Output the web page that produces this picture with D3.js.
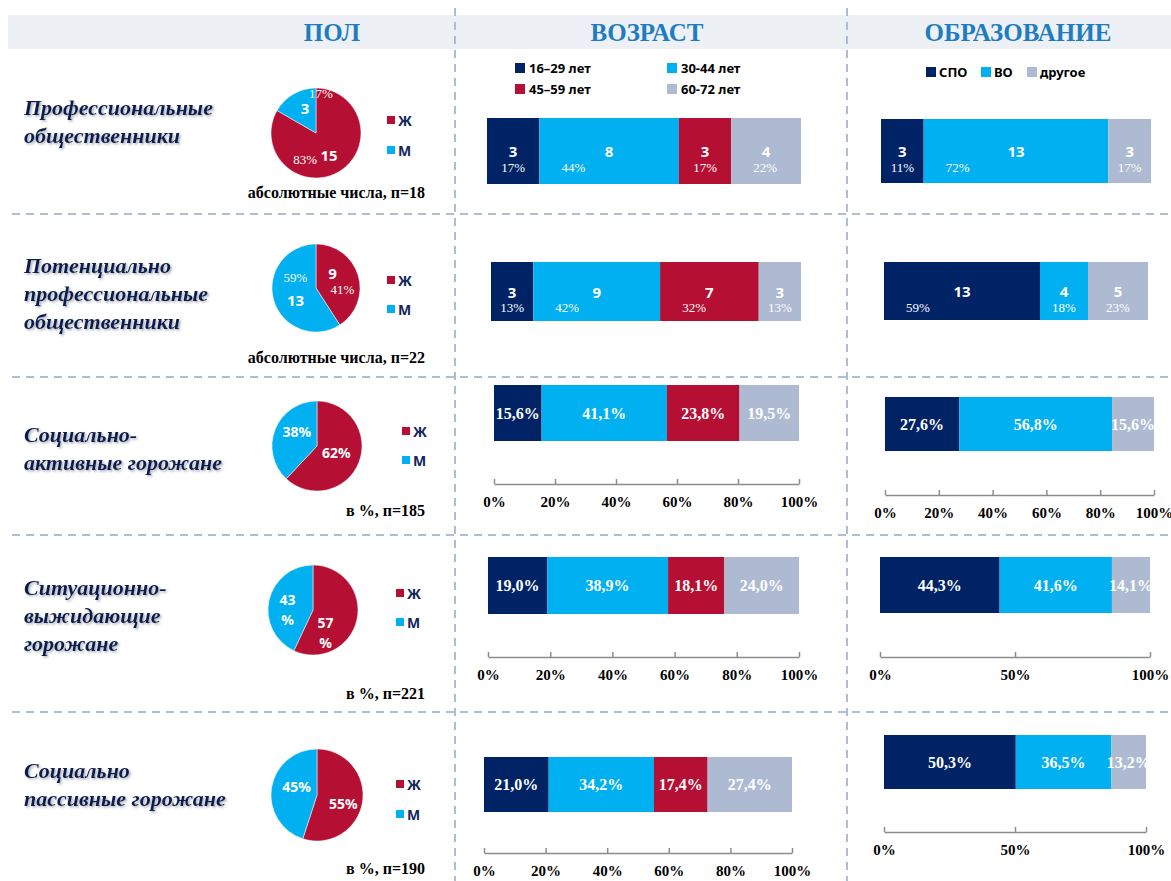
<!DOCTYPE html>
<html lang="ru">
<head>
<meta charset="UTF-8">
<title>Сегменты горожан: пол, возраст, образование</title>
<script src="https://d3js.org/d3.v7.min.js"></script>
<style>
  body { margin: 0; background: #fff; }
  svg { display: block; }
  .hdr { font-family: "Liberation Serif", "Times New Roman", serif; font-weight: bold; font-size: 25px; fill: #1f7cc1; }
  .seg { font-family: "Liberation Serif", serif; font-weight: bold; font-style: italic; font-size: 22px; fill: #0c1e4f; }
  .note { font-family: "Liberation Serif", serif; font-weight: bold; font-size: 16px; fill: #000; }
  .leg { font-family: "Noto Sans", sans-serif; font-weight: bold; font-size: 13px; fill: #000; }
  .pleg { font-family: "Noto Sans", sans-serif; font-weight: bold; font-size: 14px; fill: #14285a; }
  .cnt { font-family: "Noto Sans", sans-serif; font-weight: bold; font-size: 15px; fill: #fff; }
  .pct { font-family: "Liberation Serif", serif; font-size: 13px; fill: #fff; }
  .pieTxt { font-family: "Noto Sans", sans-serif; font-weight: bold; font-size: 14px; fill: #fff; }
  .val { font-family: "Liberation Serif", serif; font-weight: bold; font-size: 16px; fill: #fff; }
  .axis text { font-family: "Liberation Serif", serif; font-weight: bold; font-size: 15px; fill: #000; }
  .axis path, .axis line { stroke: #8c8c8c; stroke-width: 1.5; }
</style>
</head>
<body>
<svg id="chart"></svg>
<script>
// ---------- data ----------
const headers = ["ПОЛ", "ВОЗРАСТ", "ОБРАЗОВАНИЕ"];

const rowLabels = [
  ["Профессиональные", "общественники"],
  ["Потенциально", "профессиональные", "общественники"],
  ["Социально-", "активные горожане"],
  ["Ситуационно-", "выжидающие", "горожане"],
  ["Социально", "пассивные горожане"]
];
const sampleNotes = ["абсолютные числа, п=18", "абсолютные числа, п=22", "в %, п=185", "в %, п=221", "в %, п=190"];
const absoluteRows = [true, true, false, false, false];

const genderKeys = ["Ж", "М"];
const genderValues = [[15, 3], [9, 13], [62, 38], [57, 43], [55, 45]];
const genderShare = [["83%", "17%"], ["41%", "59%"], ["62%", "38%"], ["57%", "43%"], ["55%", "45%"]];

const ageKeys = ["16–29 лет", "30-44 лет", "45–59 лет", "60-72 лет"];
const ageValues = [
  [3, 8, 3, 4],
  [3, 9, 7, 3],
  [15.6, 41.1, 23.8, 19.5],
  [19.0, 38.9, 18.1, 24.0],
  [21.0, 34.2, 17.4, 27.4]
];
const ageShare = [["17%", "44%", "17%", "22%"], ["13%", "42%", "32%", "13%"]];
const ageTicks = [[], [], [0, 20, 40, 60, 80, 100], [0, 20, 40, 60, 80, 100], [0, 20, 40, 60, 80, 100]];

const eduKeys = ["СПО", "ВО", "другое"];
const eduValues = [
  [3, 13, 3],
  [13, 4, 5],
  [27.6, 56.8, 15.6],
  [44.3, 41.6, 14.1],
  [50.3, 36.5, 13.2]
];
const eduShare = [["11%", "72%", "17%"], ["59%", "18%", "23%"]];
const eduTicks = [[], [], [0, 20, 40, 60, 80, 100], [0, 50, 100], [0, 50, 100]];

// ---------- colours & layout ----------
const NAVY = "#002366", CYAN = "#00b0f0", RED = "#b50f33", GREY = "#adbad2";
const genderColors = [RED, CYAN];
const ageColors = [NAVY, CYAN, RED, GREY];
const eduColors = [NAVY, CYAN, GREY];

const rows = [
  { labelY: 107, pie: [316, 133, 45], legX: 387, legY: [120, 150], noteY: 192,
    age: [487, 801, 118, 184], edu: [881, 1151, 119, 183] },
  { labelY: 265, pie: [316, 288, 44], legX: 387, legY: [280, 309], noteY: 357,
    age: [491, 801, 262, 321], edu: [884, 1148, 262, 320] },
  { labelY: 434, pie: [317, 446, 45], legX: 402, legY: [431, 460], noteY: 510,
    age: [494, 799, 385, 441, 484], edu: [885, 1154, 397, 451, 495] },
  { labelY: 587, pie: [313, 610, 45], legX: 396, legY: [593, 622], noteY: 693, wrap: true,
    age: [488, 799, 557, 614, 657], edu: [880, 1150, 557, 613, 657] },
  { labelY: 770, pie: [317, 795, 46], legX: 396, legY: [784, 814], noteY: 868,
    age: [484, 792, 757, 812, 853], edu: [884, 1146, 735, 789, 832] }
];
// small nudges of pie labels away from the slice centroid
const pieNudge = [
  [{ c: [0, -1], p: [-24, 4] }, { c: [2, -2], p: [18, -17] }],
  [{ c: [-8, -8], p: [2, 9] }, { c: [4, 5], p: [4, -18] }],
  [{ p: [-5, -3] }, { p: [4, -5] }],
  [{ p: [-13, 16] }, { p: [0, 5] }],
  [{ p: [0, 4] }, { p: [6, -4] }]
];

const svg = d3.select("#chart").attr("width", 1171).attr("height", 881);
const defs = svg.append("defs");
defs.append("filter").attr("id", "shadow").attr("x", "-5%").attr("y", "-20%").attr("width", "110%").attr("height", "150%")
  .append("feDropShadow").attr("dx", 1.5).attr("dy", 1.5).attr("stdDeviation", 0.8)
  .attr("flood-color", "#7f8796").attr("flood-opacity", 0.7);

// header band
svg.append("rect").attr("x", 8).attr("y", 15).attr("width", 1163).attr("height", 34).attr("fill", "#edf1f6");
svg.selectAll(".hdr").data(headers).enter().append("text")
  .attr("class", "hdr").attr("text-anchor", "middle")
  .attr("x", (d, i) => [332, 647, 1018][i]).attr("y", 41).text(d => d);

// dashed grid
const dash = { stroke: "#afbdd4", "stroke-width": 2, "stroke-dasharray": "8,6" };
[214, 377, 535, 712].forEach(y => {
  const l = svg.append("line").attr("x1", 12).attr("x2", 1171).attr("y1", y).attr("y2", y);
  Object.entries(dash).forEach(([k, v]) => l.attr(k, v));
});
[455, 847].forEach(x => {
  const l = svg.append("line").attr("x1", x).attr("x2", x).attr("y1", 8).attr("y2", 881);
  Object.entries(dash).forEach(([k, v]) => l.attr(k, v));
});

// legends at the top of age / education columns
const ageLeg = svg.append("g");
ageKeys.forEach((k, i) => {
  const x = i % 2 === 0 ? 515 : 667, y = i < 2 ? 68 : 89;
  ageLeg.append("rect").attr("x", x).attr("y", y - 5).attr("width", 10).attr("height", 10).attr("fill", ageColors[i]);
  ageLeg.append("text").attr("class", "leg").attr("x", x + 14).attr("y", y).attr("dominant-baseline", "central").text(k);
});
const eduLegX = [926, 981, 1027];
eduKeys.forEach((k, i) => {
  svg.append("rect").attr("x", eduLegX[i]).attr("y", 67).attr("width", 10).attr("height", 10).attr("fill", eduColors[i]);
  svg.append("text").attr("class", "leg").attr("x", eduLegX[i] + 13).attr("y", 72).attr("dominant-baseline", "central").text(k);
});

const fmt = v => v.toFixed(1).replace(".", ",") + "%";

function drawBar(ri, values, colors, share, ticks, box, name) {
  const [x0, x1, y0, y1, axisY] = box;
  const abs = absoluteRows[ri];
  const total = abs ? d3.sum(values) : 100;
  const x = d3.scaleLinear().domain([0, total]).range([x0, x1]);
  const ends = Array.from(d3.cumsum(values));
  const segs = values.map((v, i) => ({ v, i, a: ends[i] - v, b: ends[i] }));
  const g = svg.append("g");
  const clipId = `clip-${name}-${ri}`;
  defs.append("clipPath").attr("id", clipId).append("rect")
    .attr("x", x0).attr("y", y0).attr("width", x1 - x0).attr("height", y1 - y0);

  g.selectAll("rect").data(segs).enter().append("rect")
    .attr("x", d => x(d.a)).attr("width", d => x(d.b) - x(d.a))
    .attr("y", y0).attr("height", y1 - y0)
    .attr("fill", d => colors[d.i]);

  const cy = (y0 + y1) / 2;
  const lab = g.append("g").attr("clip-path", `url(#${clipId})`);
  if (abs) {
    lab.selectAll(".cnt").data(segs).enter().append("text").attr("class", "cnt")
      .attr("text-anchor", "middle").attr("dominant-baseline", "central")
      .attr("x", d => (x(d.a) + x(d.b)) / 2).attr("y", cy).text(d => d.v);
    lab.selectAll(".pct").data(segs).enter().append("text").attr("class", "pct")
      .attr("text-anchor", "middle").attr("dominant-baseline", "central")
      .attr("x", d => x(d.a) + Math.min((x(d.b) - x(d.a)) / 2, 34)).attr("y", cy + 16)
      .text(d => share[d.i]);
  } else {
    lab.selectAll(".val").data(segs).enter().append("text").attr("class", "val")
      .attr("text-anchor", "middle").attr("dominant-baseline", "central")
      .attr("x", d => (x(d.a) + x(d.b)) / 2).attr("y", cy).text(d => fmt(d.v));
  }

  if (ticks.length) {
    svg.append("g").attr("class", "axis").attr("transform", `translate(0,${axisY})`)
      .call(d3.axisBottom(x).tickValues(ticks).tickFormat(d => d + "%")
        .tickSizeInner(-5).tickSizeOuter(0).tickPadding(12))
      .call(a => a.selectAll("text").attr("dy", "0.72em"));
  }
}

rows.forEach((row, ri) => {
  // segment name
  const t = svg.append("text").attr("class", "seg").attr("filter", "url(#shadow)");
  rowLabels[ri].forEach((line, li) => {
    t.append("tspan").attr("x", 24).attr("y", row.labelY + li * 28).attr("dominant-baseline", "central").text(line);
  });

  // gender pie
  const [cx, cy, r] = row.pie;
  const pie = d3.pie().sort(null)(genderValues[ri]);
  const arc = d3.arc().innerRadius(0).outerRadius(r);
  const lblArc = d3.arc().innerRadius(r * 0.58).outerRadius(r * 0.58);
  const pg = svg.append("g").attr("transform", `translate(${cx},${cy})`);
  pg.selectAll("path").data(pie).enter().append("path")
    .attr("d", arc).attr("fill", (d, i) => genderColors[i])
    .attr("stroke", "#fff").attr("stroke-width", 0.5);
  pie.forEach((d, i) => {
    const [px, py] = lblArc.centroid(d);
    const n = pieNudge[ri][i];
    if (absoluteRows[ri]) {
      pg.append("text").attr("class", "cnt").attr("text-anchor", "middle").attr("dominant-baseline", "central")
        .attr("x", px + n.c[0]).attr("y", py + n.c[1]).text(d.value);
      pg.append("text").attr("class", "pct").attr("text-anchor", "middle").attr("dominant-baseline", "central")
        .attr("x", px + n.p[0]).attr("y", py + n.p[1]).text(genderShare[ri][i]);
    } else if (row.wrap) {
      const s = genderShare[ri][i];
      const tx = pg.append("text").attr("class", "pieTxt").attr("text-anchor", "middle").attr("dominant-baseline", "central");
      tx.append("tspan").attr("x", px + n.p[0]).attr("y", py + n.p[1] - 10).text(s.replace("%", ""));
      tx.append("tspan").attr("x", px + n.p[0]).attr("y", py + n.p[1] + 10).text("%");
    } else {
      pg.append("text").attr("class", "pieTxt").attr("text-anchor", "middle").attr("dominant-baseline", "central")
        .attr("x", px + n.p[0]).attr("y", py + n.p[1]).text(genderShare[ri][i]);
    }
  });

  // pie legend
  genderKeys.forEach((k, i) => {
    svg.append("rect").attr("x", row.legX).attr("y", row.legY[i] - 4).attr("width", 8).attr("height", 8).attr("fill", genderColors[i]);
    svg.append("text").attr("class", "pleg").attr("x", row.legX + 11).attr("y", row.legY[i])
      .attr("dominant-baseline", "central").text(k);
  });

  // sample note
  svg.append("text").attr("class", "note").attr("text-anchor", "end")
    .attr("x", 425).attr("y", row.noteY).attr("dominant-baseline", "central").text(sampleNotes[ri]);

  // bars
  drawBar(ri, ageValues[ri], ageColors, ageShare[ri], ageTicks[ri], row.age, "age");
  drawBar(ri, eduValues[ri], eduColors, eduShare[ri], eduTicks[ri], row.edu, "edu");
});
</script>
</body>
</html>
